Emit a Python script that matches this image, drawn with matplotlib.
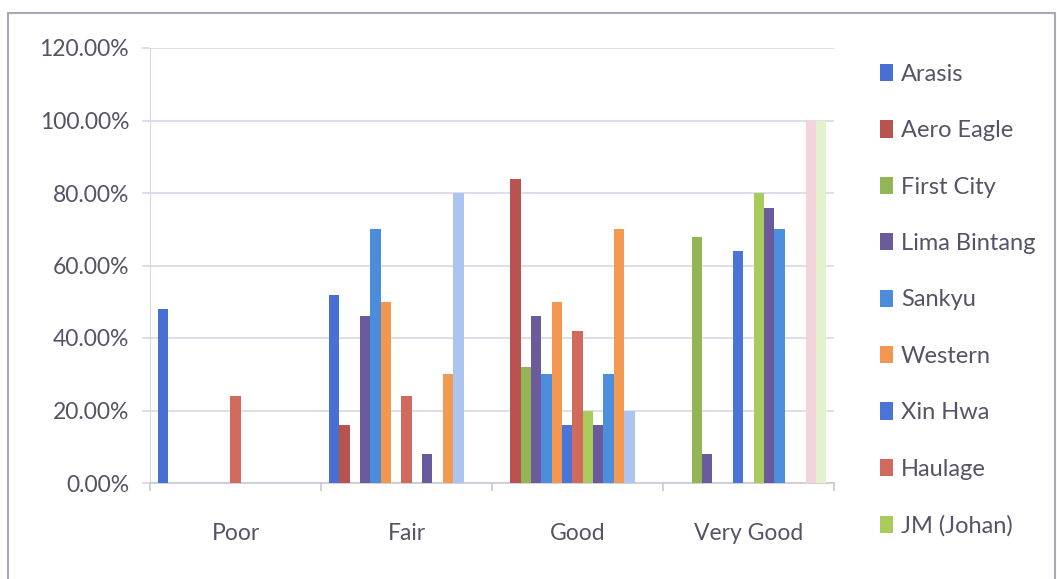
import matplotlib.pyplot as plt
from matplotlib.patches import Rectangle, Patch
from matplotlib.ticker import FuncFormatter

plt.rcParams['font.family'] = ['Lato', 'DejaVu Sans']

categories = ["Poor", "Fair", "Good", "Very Good"]

# one list per company, values in percent for Poor, Fair, Good, Very Good
arasis = [48, 52, 0, 0]
aero_eagle = [0, 16, 84, 0]
first_city = [0, 0, 32, 68]
lima_bintang = [0, 46, 46, 8]
sankyu = [0, 70, 30, 0]
western = [0, 50, 50, 0]
xin_hwa = [0, 0, 16, 64]
haulage = [24, 24, 42, 0]
jm_johan = [0, 0, 20, 80]
# series the original legend has no room for
series_10 = [0, 8, 16, 76]
series_11 = [0, 0, 30, 70]
series_12 = [0, 30, 70, 0]
series_13 = [0, 80, 20, 0]
series_14 = [0, 0, 0, 100]
series_15 = [0, 0, 0, 100]

series = [
    ("Arasis", arasis, "#4a6fd3"),
    ("Aero Eagle", aero_eagle, "#b9534f"),
    ("First City", first_city, "#92b656"),
    ("Lima Bintang", lima_bintang, "#6c5b9c"),
    ("Sankyu", sankyu, "#4b8ddb"),
    ("Western", western, "#f29650"),
    ("Xin Hwa", xin_hwa, "#4a74d6"),
    ("Haulage", haulage, "#d06a5c"),
    ("JM (Johan)", jm_johan, "#a9cb5c"),
    ("Series 10", series_10, "#6a5a9c"),
    ("Series 11", series_11, "#4b8fde"),
    ("Series 12", series_12, "#f39a52"),
    ("Series 13", series_13, "#abc5f0"),
    ("Series 14", series_14, "#f3d3dc"),
    ("Series 15", series_15, "#e3f1cc"),
]
n_legend = 9

text_col = "#545466"
grid_col = "#d8d8e6"

fig = plt.figure(figsize=(10.57, 5.79), dpi=100)
ax = fig.add_axes([150 / 1057, 96 / 579, 684 / 1057, 435 / 579])

n = len(series)
slots = n + 1.5  # excel style gap width of 150%
w = 1.0 / slots
for i, (name, vals, col) in enumerate(series):
    xs = [c - 0.5 + (0.75 + i + 0.5) * w for c in range(len(categories))]
    ax.bar(xs, vals, width=w, color=col, label=name, zorder=3, linewidth=0)

ax.set_xlim(-0.5, len(categories) - 0.5)
ax.set_ylim(0, 120)
ax.set_yticks(range(0, 121, 20))
ax.yaxis.set_major_formatter(FuncFormatter(lambda v, p: "%.2f%%" % v))
ax.set_xticks(range(len(categories)))
ax.set_xticklabels(categories)
ax.set_xticks([c - 0.5 for c in range(len(categories) + 1)], minor=True)

ax.grid(axis='y', color=grid_col, linewidth=1.2, zorder=0)
for s in ["top", "right"]:
    ax.spines[s].set_visible(False)
ax.spines["left"].set_color(grid_col)
ax.spines["bottom"].set_color("#c8c8d6")
ax.spines["bottom"].set_linewidth(1.2)

ax.tick_params(axis='y', labelsize=16.5, labelcolor=text_col, color=grid_col,
               length=6, width=1.2, pad=9)
ax.tick_params(axis='x', which='major', length=0, labelsize=16.5,
               labelcolor=text_col, pad=29)
ax.tick_params(axis='x', which='minor', length=6, width=1.2, color="#c8c8d6")

handles = [Patch(facecolor=col, edgecolor='none') for _, _, col in series[:n_legend]]
labels = [name for name, _, _ in series[:n_legend]]
fig.legend(handles, labels, loc='upper left', bbox_to_anchor=(868 / 1057, 1 - 52 / 579),
           frameon=False, fontsize=17, labelcolor=text_col, handlelength=0.55,
           handleheight=0.75, handletextpad=0.35, labelspacing=1.5, borderpad=0)

# chart frame
fig.patches.append(Rectangle((8 / 1057, -0.05), 1047 / 1057, 1.05 - 13 / 579,
                             transform=fig.transFigure, fill=False,
                             edgecolor="#a8a8b8", linewidth=1.5))

fig.savefig("out.png", dpi=100)
